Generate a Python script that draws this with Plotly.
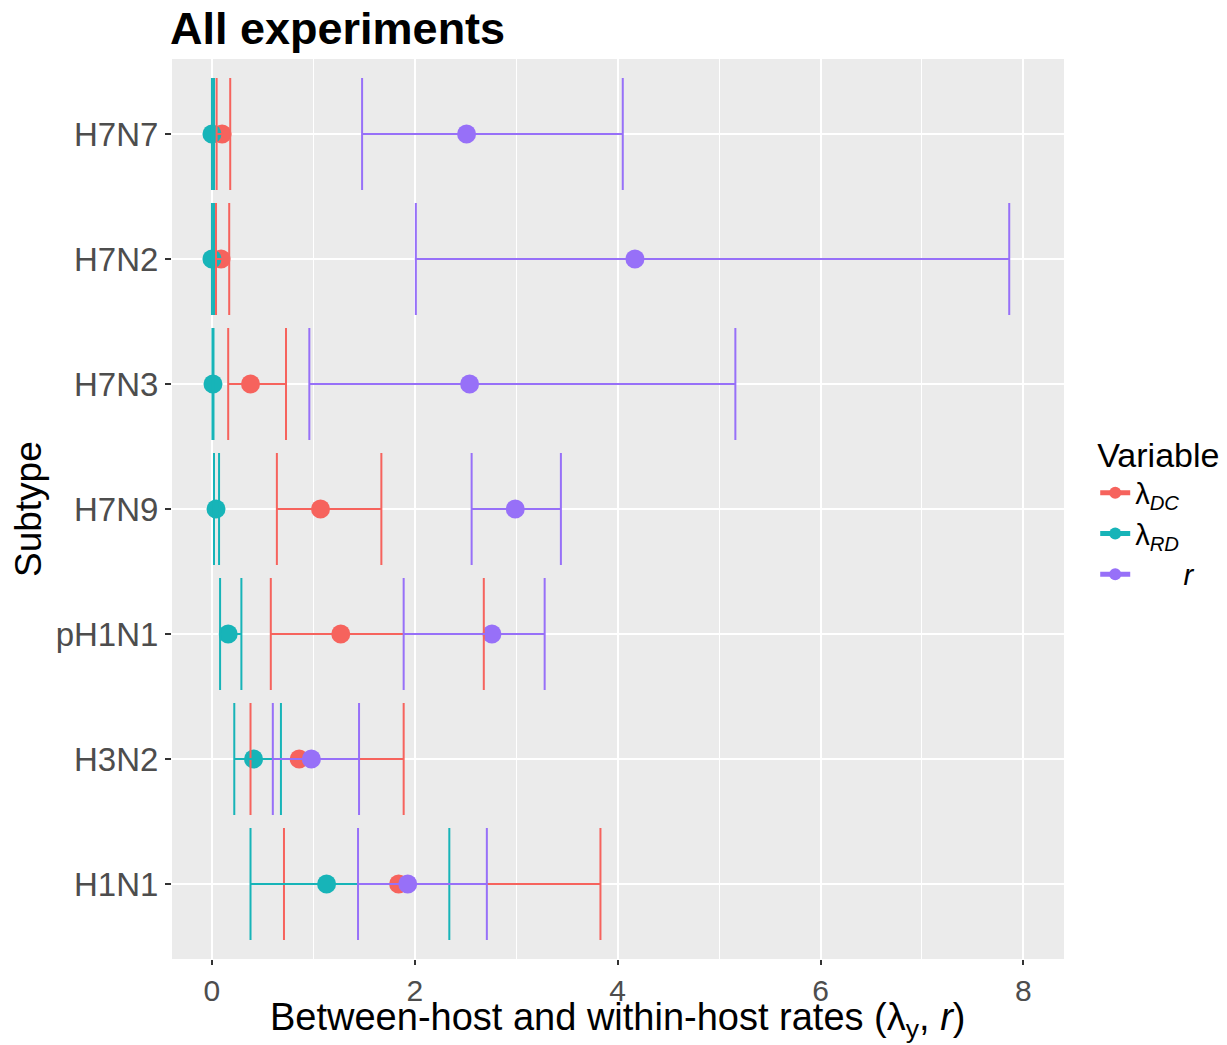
import plotly.graph_objects as go

subtypes = ["H7N7", "H7N2", "H7N3", "H7N9", "pH1N1", "H3N2", "H1N1"]

dc_mean = [0.10, 0.09, 0.38, 1.07, 1.27, 0.86, 1.84]
dc_low = [0.046, 0.04, 0.16, 0.64, 0.58, 0.38, 0.71]
dc_high = [0.18, 0.17, 0.73, 1.67, 2.68, 1.89, 3.83]

rd_mean = [0.00, 0.00, 0.01, 0.04, 0.16, 0.41, 1.13]
rd_low = [0.00, 0.00, 0.005, 0.02, 0.08, 0.22, 0.38]
rd_high = [0.02, 0.02, 0.015, 0.07, 0.29, 0.68, 2.34]

r_mean = [2.51, 4.17, 2.54, 2.99, 2.76, 0.98, 1.93]
r_low = [1.48, 2.01, 0.96, 2.56, 1.89, 0.60, 1.44]
r_high = [4.05, 7.86, 5.16, 3.44, 3.28, 1.45, 2.71]

series = [
    ("λ<sub><i>DC</i></sub>", dc_mean, dc_low, dc_high, "#F6635D"),
    ("λ<sub><i>RD</i></sub>", rd_mean, rd_low, rd_high, "#17B4B8"),
    ("      <i>r</i>", r_mean, r_low, r_high, "#9770F8"),
]

FONT = "Liberation Sans, Arial, sans-serif"
fig = go.Figure()

# points first
for name, m, lo, hi, col in series:
    fig.add_trace(go.Scatter(
        x=m, y=subtypes, mode="markers", name=name,
        marker=dict(size=19, color=col, line=dict(width=0)),
        showlegend=False, hoverinfo="skip"))

# error bars on top
for name, m, lo, hi, col in series:
    fig.add_trace(go.Scatter(
        x=m, y=subtypes, mode="markers", name=name,
        marker=dict(size=1, color=col, opacity=0),
        error_x=dict(type="data", symmetric=False,
                     array=[h - v for h, v in zip(hi, m)],
                     arrayminus=[v - l for v, l in zip(m, lo)],
                     color=col, thickness=2, width=56),
        showlegend=False, hoverinfo="skip"))

# legend entries
for name, m, lo, hi, col in series:
    fig.add_trace(go.Scatter(
        x=[None], y=[None], mode="lines+markers", name=name,
        marker=dict(size=19, color=col), line=dict(color=col, width=2),
        showlegend=True))

fig.update_layout(
    width=1227, height=1045,
    margin=dict(l=172, r=163, t=59, b=86, autoexpand=False),
    paper_bgcolor="white", plot_bgcolor="#EBEBEB",
    font=dict(family=FONT, size=33, color="black"),
    title=dict(text="<b>All experiments</b>", x=170/1227, xanchor="left",
               xref="container", y=1 - 28/1045, yanchor="middle",
               font=dict(size=45, color="black", family=FONT)),
    showlegend=True,
    legend=dict(title=dict(text="Variable", font=dict(size=34)),
                font=dict(size=29), x=1.035, xanchor="left", y=0.497, yanchor="middle",
                bgcolor="rgba(0,0,0,0)", tracegroupgap=0, itemsizing="constant",
                itemwidth=30),
    annotations=[
        dict(text="Between-host and within-host rates (λ<sub>y</sub>, <i>r</i>)",
             xref="paper", yref="paper", x=0.5, y=-61/900, xanchor="center",
             yanchor="middle", showarrow=False, font=dict(size=38, color="black")),
        dict(text="Subtype", xref="paper", yref="paper", x=(28 - 172)/892, y=0.5,
             xanchor="center", yanchor="middle", textangle=-90, showarrow=False,
             font=dict(size=37, color="black")),
    ],
)

fig.update_xaxes(
    range=[-0.394, 8.40], tickvals=[0, 2, 4, 6, 8], ticktext=["0", "2", "4", "6", "8"],
    showgrid=True, gridcolor="white", gridwidth=2.2,
    minor=dict(tickvals=[1, 3, 5, 7], showgrid=True, gridcolor="white", gridwidth=1),
    zeroline=False, ticks="outside", ticklen=5, tickwidth=2, tickcolor="#333333",
    tickfont=dict(size=30, color="#4D4D4D"), automargin=False,
    showline=False)

fig.update_yaxes(
    categoryorder="array", categoryarray=subtypes[::-1], type="category",
    range=[-0.6, 6.6],
    showgrid=True, gridcolor="white", gridwidth=2.2, zeroline=False,
    ticks="outside", ticklen=6, tickwidth=2, tickcolor="#333333",
    tickfont=dict(size=33, color="#4D4D4D"), automargin=False,
    showline=False)

fig.write_html("out.html")
